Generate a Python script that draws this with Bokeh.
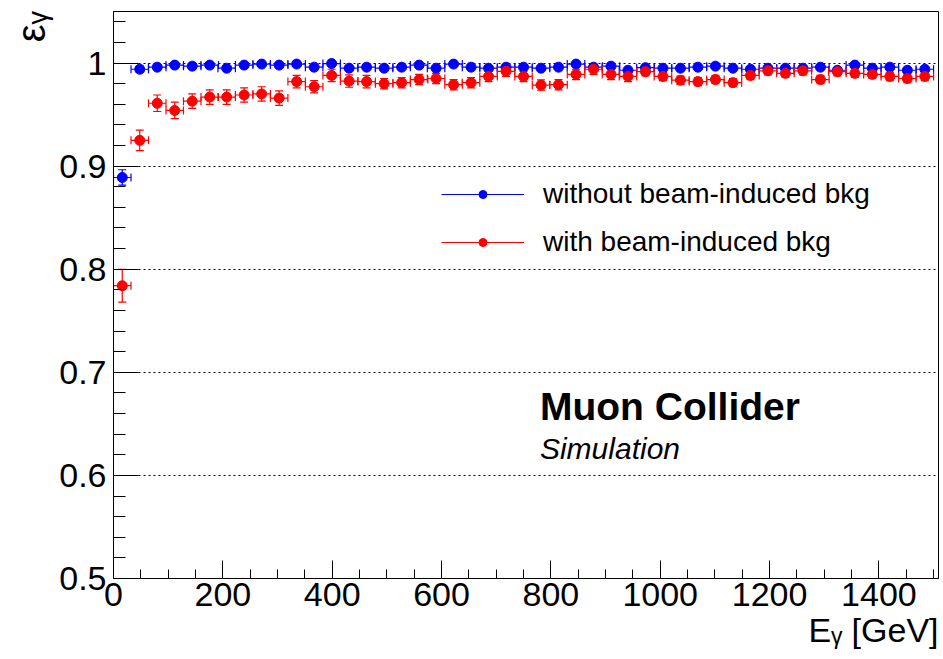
from bokeh.plotting import figure
from bokeh.models import (Range1d, FixedTicker, Whisker, TeeHead, ColumnDataSource,
                          Label, Legend, LegendItem, CustomJSTickFormatter, Title)
from bokeh.embed import file_html
from bokeh.resources import INLINE

# ---------------- data ----------------
e_centers = [16, 48, 80, 112, 144, 176, 207, 239, 271, 303, 335, 367, 399, 431, 463,
             495, 527, 559, 590, 622, 654, 686, 718, 750, 782, 814, 846, 878, 910, 941,
             973, 1005, 1037, 1069, 1101, 1133, 1165, 1197, 1229, 1261, 1293, 1324, 1356,
             1388, 1420, 1452, 1484]
e_halfwidth = [16] * 47

eff_nobkg = [0.889, 0.994, 0.996, 0.998, 0.997, 0.998, 0.995, 0.998, 0.999, 0.998,
             0.999, 0.996, 0.9995, 0.995, 0.996, 0.995, 0.996, 0.998, 0.995, 0.999,
             0.996, 0.995, 0.996, 0.996, 0.995, 0.996, 0.999, 0.996, 0.997, 0.993,
             0.9955, 0.995, 0.995, 0.996, 0.997, 0.995, 0.994, 0.995, 0.995, 0.995,
             0.996, 0.993, 0.998, 0.995, 0.996, 0.993, 0.994]
err_nobkg = [0.0075, 0.003] + [0.002] * 45

eff_bkg = [0.784, 0.925, 0.961, 0.954, 0.963, 0.967, 0.967, 0.969, 0.970, 0.966,
           0.982, 0.977, 0.988, 0.9825, 0.982, 0.980, 0.981, 0.984, 0.985, 0.979,
           0.981, 0.987, 0.992, 0.987, 0.9786, 0.979, 0.989, 0.994, 0.989, 0.987,
           0.9916, 0.987, 0.9834, 0.982, 0.984, 0.981, 0.988, 0.9925, 0.990, 0.9925,
           0.984, 0.9916, 0.990, 0.989, 0.987, 0.985, 0.987]
err_bkg = [0.016, 0.010, 0.008, 0.008, 0.007, 0.007, 0.007, 0.007, 0.007, 0.007,
           0.006, 0.006, 0.006, 0.006, 0.006] + [0.005] * 15 + [0.004] * 17

series_labels = ["without beam-induced bkg", "with beam-induced bkg"]
x_title = "Eᵧ [GeV]"
y_title = "εᵧ"
x_major = [0, 200, 400, 600, 800, 1000, 1200, 1400]
x_minor = [50 * i for i in range(31)]
y_major = [0.5, 0.6, 0.7, 0.8, 0.9, 1.0]
y_minor = [round(0.5 + 0.02 * i, 2) for i in range(28)]

FONT = "Liberation Sans"
NAN = float("nan")

p = figure(width=943, height=659, output_backend="svg", toolbar_location=None,
           x_range=Range1d(0, 1509), y_range=Range1d(0.5, 1.05),
           min_border_left=113, min_border_right=5, min_border_top=11,
           min_border_bottom=81)
p.background_fill_color = "white"
p.border_fill_color = "white"
p.outline_line_color = "black"
p.outline_line_width = 1
p.outline_line_alpha = 1

p.xgrid.visible = False
p.ygrid.grid_line_color = "black"
p.ygrid.grid_line_dash = "2 3"
p.ygrid.grid_line_width = 1

for ax in (p.xaxis[0], p.yaxis[0]):
    ax.axis_line_color = "black"
    ax.major_tick_line_color = "black"
    ax.minor_tick_line_color = "black"
    ax.major_tick_out = 0
    ax.minor_tick_out = 0
    ax.major_label_text_font = FONT
    ax.major_label_text_font_size = "34px"
    ax.major_label_text_color = "black"

p.xaxis.ticker = FixedTicker(ticks=x_major, minor_ticks=x_minor)
p.xaxis.major_tick_in = 18
p.xaxis.minor_tick_in = 9
p.xaxis.major_label_standoff = 4

p.yaxis.ticker = FixedTicker(ticks=y_major, minor_ticks=y_minor)
p.yaxis.major_tick_in = 25
p.yaxis.minor_tick_in = 12
p.yaxis.major_label_standoff = 7
p.yaxis.formatter = CustomJSTickFormatter(
    code="return (Math.abs(tick - 1) < 1e-9) ? '1' : tick.toFixed(1);")

# axis titles (ROOT style: aligned to the axis end)
p.add_layout(Title(text=x_title, align="right", text_font=FONT, text_font_size="34px",
                   text_font_style="normal", text_color="black", standoff=0), "below")
p.add_layout(Title(text=y_title, align="right", text_font=FONT, text_font_size="40px",
                   text_font_style="normal", text_color="black", standoff=8), "left")

renderers = []
for eff, err, color in ((eff_nobkg, err_nobkg, "#0000ff"), (eff_bkg, err_bkg, "#ff0000")):
    src = ColumnDataSource(dict(
        x=e_centers, y=eff,
        yl=[v - e for v, e in zip(eff, err)], yu=[v + e for v, e in zip(eff, err)],
        xl=[c - h for c, h in zip(e_centers, e_halfwidth)],
        xu=[c + h for c, h in zip(e_centers, e_halfwidth)]))
    wy = Whisker(source=src, base="x", lower="yl", upper="yu", dimension="height",
                 line_color=color, line_width=1.2,
                 lower_head=TeeHead(size=8, line_color=color, line_width=1.2),
                 upper_head=TeeHead(size=8, line_color=color, line_width=1.2))
    wx = Whisker(source=src, base="y", lower="xl", upper="xu", dimension="width",
                 line_color=color, line_width=1.2,
                 lower_head=TeeHead(size=8, line_color=color, line_width=1.2),
                 upper_head=TeeHead(size=8, line_color=color, line_width=1.2))
    p.add_layout(wy)
    p.add_layout(wx)
    sc = p.scatter("x", "y", source=src, size=10, marker="circle",
                   fill_color=color, line_color=color)
    # legend-only line sample (no visible data)
    ln = p.line(x=[NAN], y=[NAN], line_color=color, line_width=1.2)
    renderers.append((ln, sc))

legend = Legend(items=[LegendItem(label=series_labels[i], renderers=list(renderers[i]))
                       for i in range(2)],
                location=(328, 320), glyph_width=83, glyph_height=20,
                label_text_font=FONT, label_text_font_size="28px",
                label_text_color="black", label_standoff=19, spacing=16,
                padding=0, margin=0, border_line_alpha=0, background_fill_alpha=0)
p.add_layout(legend)

p.add_layout(Label(x=780, y=0.646, text="Muon Collider", text_font=FONT,
                   text_font_size="39px", text_font_style="bold", text_color="black"))
p.add_layout(Label(x=780, y=0.6102, text="Simulation", text_font=FONT,
                   text_font_size="30px", text_font_style="italic", text_color="black"))

open("out.html", "w").write(file_html(p, INLINE))
